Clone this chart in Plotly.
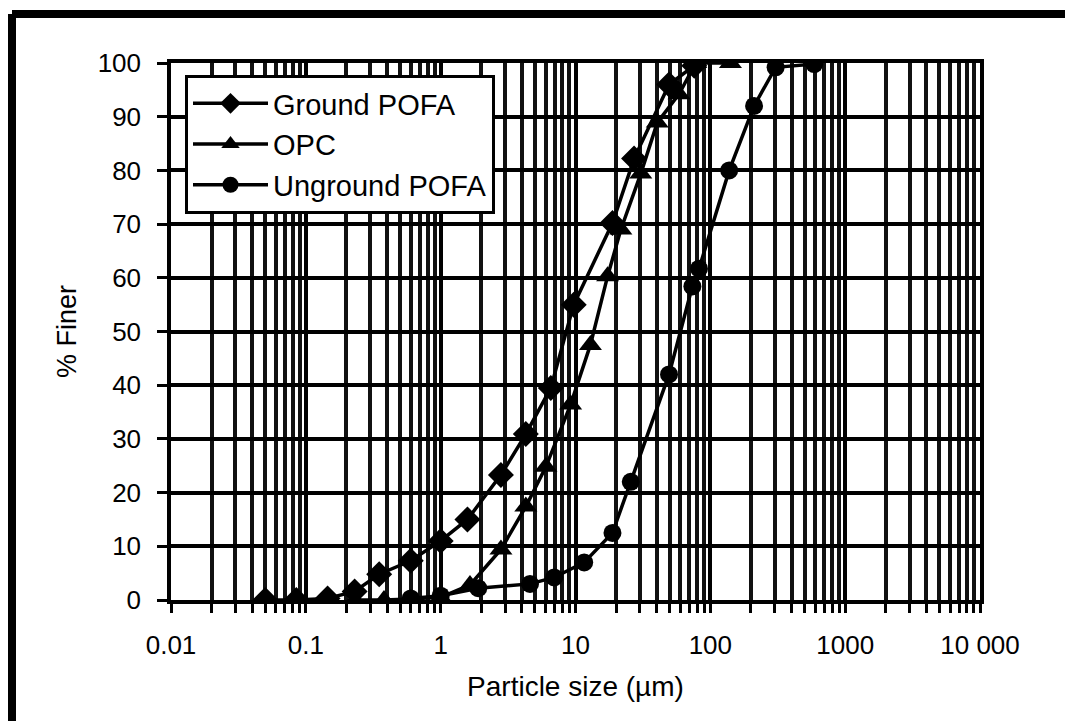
import plotly.graph_objects as go

# ---- data ----
ground_x = [0.05, 0.085, 0.145, 0.23, 0.35, 0.6, 1.0, 1.58, 2.8, 4.28, 6.56, 9.7, 18.8, 27.2, 49.4, 76.0]
ground_y = [0, 0, 0.3, 1.6, 4.8, 7.3, 11.0, 15.0, 23.3, 30.9, 39.5, 55.0, 70.2, 82.2, 96.0, 99.5]

opc_x = [0.23, 0.38, 0.6, 1.0, 1.65, 2.8, 4.28, 6.03, 9.2, 12.9, 17.3, 21.7, 30.5, 40.4, 58.6, 78.0, 141.0]
opc_y = [0, 0, 0.2, 0.5, 2.8, 9.4, 17.4, 24.8, 36.4, 47.5, 60.3, 69.0, 79.4, 88.9, 94.2, 100, 100]

unground_x = [0.6, 1.0, 1.9, 4.6, 6.95, 11.6, 18.8, 25.7, 49.4, 73.6, 82.4, 138, 211, 305, 590]
unground_y = [0.3, 0.8, 2.2, 3.0, 4.2, 7.0, 12.5, 22.0, 42.0, 58.4, 61.7, 80.0, 92.0, 99.2, 99.8]

x_tickvals = [0.01, 0.1, 1, 10, 100, 1000, 10000]
x_ticktext = ["0.01", "0.1", "1", "10", "100", "1000", "10 000"]
y_tickvals = list(range(0, 101, 10))

FONT = "Liberation Sans, Arial, sans-serif"

fig = go.Figure()
fig.add_trace(go.Scatter(x=ground_x, y=ground_y, name="Ground POFA", mode="lines+markers",
                         line=dict(color="black", width=3.5),
                         marker=dict(symbol="diamond", size=20, color="black")))
fig.add_trace(go.Scatter(x=opc_x, y=opc_y, name="OPC", mode="lines+markers",
                         line=dict(color="black", width=3.5),
                         marker=dict(symbol="triangle-up", size=20, color="black")))
fig.add_trace(go.Scatter(x=unground_x, y=unground_y, name="Unground POFA", mode="lines+markers",
                         line=dict(color="black", width=3.5),
                         marker=dict(symbol="circle", size=18, color="black")))

L, R, T, B = 163, 101, 55, 129
W, H = 1073, 721
pw, ph = W - L - R, H - T - B

def px(xp):
    return (xp - L) / pw

def py(yp):
    return (H - B - yp) / ph

fig.update_layout(
    width=W, height=H,
    margin=dict(l=L, r=R, t=T, b=B, autoexpand=False),
    paper_bgcolor="white", plot_bgcolor="white",
    font=dict(family=FONT, color="black", size=26),
    showlegend=True,
    legend=dict(x=px(177), y=py(67), xanchor="left", yanchor="top",
                bgcolor="white", bordercolor="black", borderwidth=3,
                font=dict(size=29, family=FONT), itemwidth=75,
                tracegroupgap=0),
    xaxis=dict(type="log", range=[-2, 4],
               tickmode="array", tickvals=x_tickvals, ticktext=x_ticktext,
               ticks="outside", ticklen=9, tickwidth=3, tickcolor="black",
               showline=True, linecolor="black", linewidth=3.5, mirror=True,
               showgrid=True, gridcolor="black", gridwidth=3.5,
               ticklabelstandoff=10,
               tickfont=dict(size=26, family=FONT),
               minor=dict(dtick="D1", ticks="outside", ticklen=9, tickwidth=3,
                          tickcolor="black", showgrid=True, gridcolor="#111111", gridwidth=3.5),
               title=dict(text="Particle size (\u00b5m)", font=dict(size=28, family=FONT), standoff=18),
               zeroline=False),
    yaxis=dict(range=[0, 100], tickmode="array", tickvals=y_tickvals,
               ticks="outside", ticklen=10, tickwidth=3, tickcolor="black",
               showline=True, linecolor="black", linewidth=3.5, mirror=True,
               showgrid=True, gridcolor="black", gridwidth=3.5,
               ticklabelstandoff=11,
               tickfont=dict(size=26, family=FONT),
               title=dict(text="% Finer", font=dict(size=27, family=FONT), standoff=14),
               zeroline=False),
)

# outer frame of the figure (left, top, right)
for (x0, y0, x1, y1) in [(4, 721, 4, 6), (4, 6, 1068, 6), (1068, 6, 1068, 721)]:
    fig.add_shape(type="line", xref="paper", yref="paper",
                  x0=px(x0), y0=py(y0), x1=px(x1), y1=py(y1),
                  line=dict(color="black", width=8), layer="above")

fig.write_html("out.html")
